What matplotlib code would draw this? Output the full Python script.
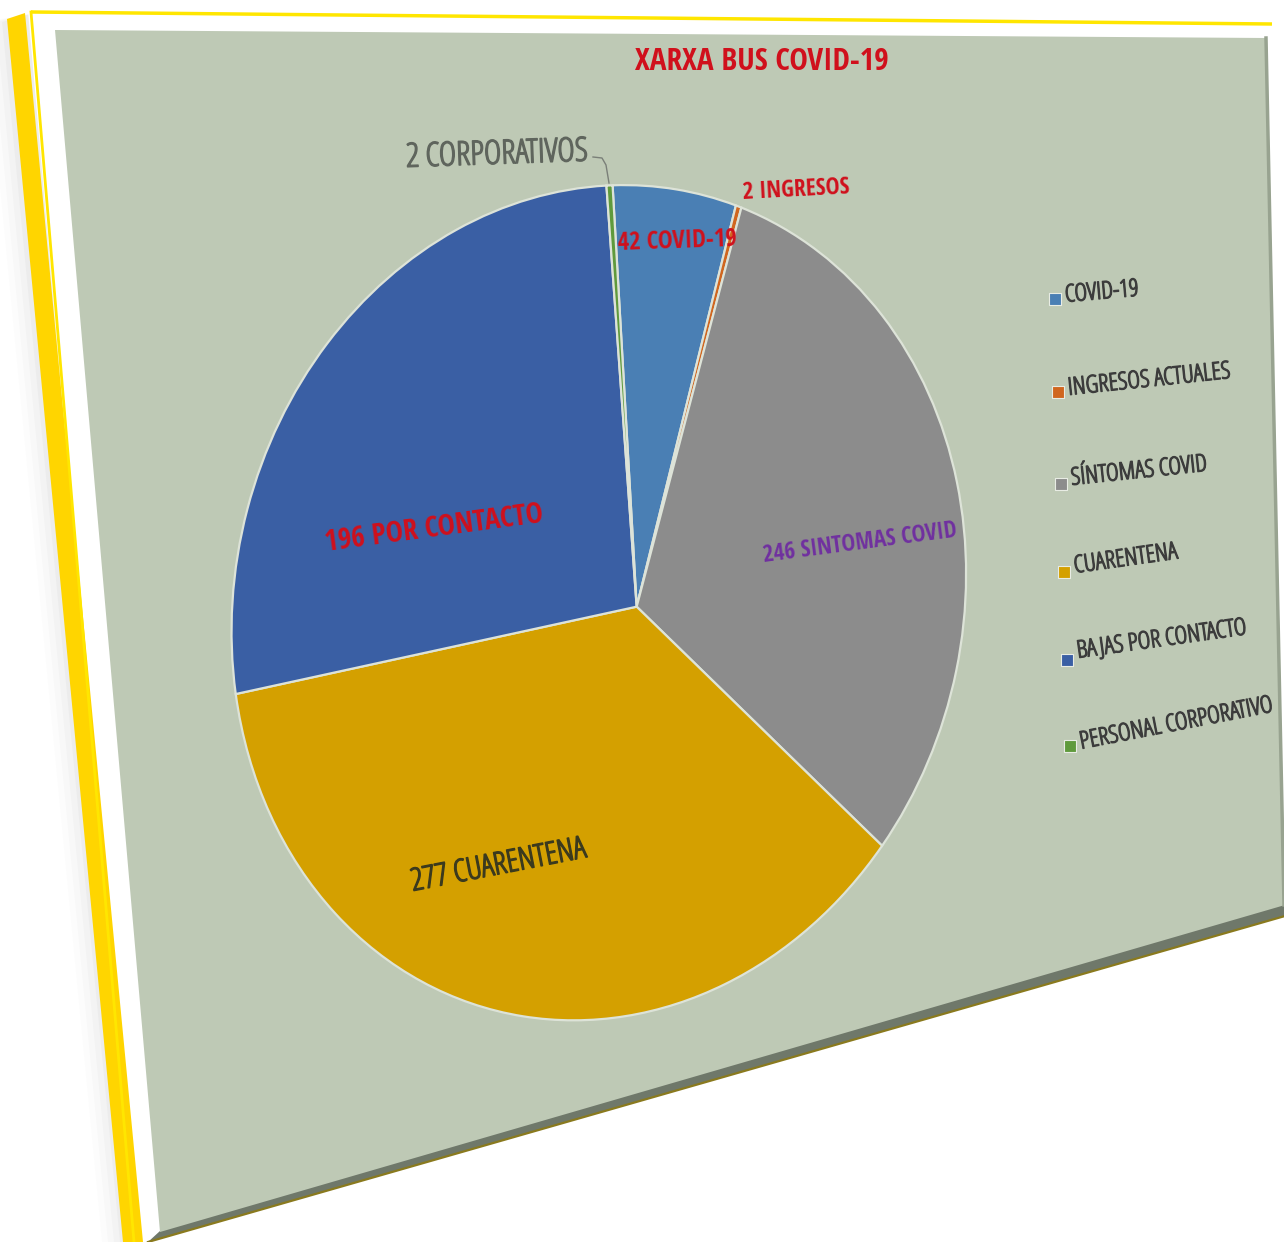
import numpy as np
import matplotlib
matplotlib.use("Agg")
import matplotlib.pyplot as plt
from matplotlib.transforms import Transform
from matplotlib.patches import Polygon
from matplotlib import font_manager as fm
import matplotlib.patheffects as pe

# ---------------- data ----------------
categories = ['COVID-19', 'INGRESOS ACTUALES', 'SÍNTOMAS COVID', 'CUARENTENA',
              'BAJAS POR CONTACTO', 'PERSONAL CORPORATIVO']
values = [42, 2, 246, 277, 196, 2]
label_names = ['COVID-19', 'INGRESOS', 'SINTOMAS COVID', 'CUARENTENA',
               'POR CONTACTO', 'CORPORATIVOS']
colors = ['#4a7fb4', '#d0661f', '#8c8c8c', '#d4a000', '#3a5fa4', '#5f9a3c']
title = 'XARXA BUS COVID-19'


# ---------------- font choice: a narrow sans if one is installed ----------------
def _wnum(w):
    if isinstance(w, str):
        return fm.weight_dict.get(w, 400)
    return w


def _is_narrow(f):
    n = f.name
    if 'Narrow' in n or 'Condensed' in n:
        return True
    return str(f.stretch) in ('condensed', 'semi-condensed', 'extra-condensed')


def pick_font(weight):
    bases = ['Liberation Sans', 'Noto Sans', 'Open Sans', 'Roboto', 'DejaVu Sans', 'Lato']
    for base in bases:
        cands = [f for f in fm.fontManager.ttflist
                 if f.name.startswith(base) and _is_narrow(f) and f.style == 'normal'
                 and 'Mono' not in f.name and 'Serif' not in f.name
                 and 'Extra' not in f.name and 'Ultra' not in f.name
                 and 'CJK' not in f.name and 'Display' not in f.name]
        if cands:
            cands.sort(key=lambda f: (abs(_wnum(f.weight) - weight),
                                      'Semi' in str(f.stretch) or 'Semi' in f.name))
            return cands[0].fname
    return None


_reg = pick_font(400)
_bold = pick_font(700)


def fp(size, bold=False):
    path = _bold if bold else _reg
    if path:
        return fm.FontProperties(fname=path, size=size)
    return fm.FontProperties(family=['Lato', 'DejaVu Sans'], size=size,
                             weight='bold' if bold else 'normal')


def thick(color, lw=0.9):
    return [pe.withStroke(linewidth=lw, foreground=color)]


W_PX, H_PX = 1284, 1242
fig = plt.figure(figsize=(W_PX / 100, H_PX / 100), dpi=100, facecolor='white')
ax = fig.add_axes([0, 0, 1, 1])


# ------------- perspective (homography) from chart space to pixels -------------
def square_to_quad(q):
    (x0, y0), (x1, y1), (x2, y2), (x3, y3) = q
    dx1, dx2, dx3 = x1 - x2, x3 - x2, x0 - x1 + x2 - x3
    dy1, dy2, dy3 = y1 - y2, y3 - y2, y0 - y1 + y2 - y3
    det = dx1 * dy2 - dx2 * dy1
    g = (dx3 * dy2 - dx2 * dy3) / det
    h = (dx1 * dy3 - dx3 * dy1) / det
    a = x1 - x0 + g * x1
    b = x3 - x0 + h * x3
    d = y1 - y0 + g * y1
    e = y3 - y0 + h * y3
    return a, b, x0, d, e, y0, g, h


panel = [(55, 30), (1267, 38), (1285, 905), (160, 1232)]
CH_W = 1.341  # chart aspect (width / height) in chart space


class Persp(Transform):
    input_dims = 2
    output_dims = 2
    is_separable = False
    has_inverse = False

    def __init__(self, quad, width):
        super().__init__()
        self.k = square_to_quad(quad)
        self.width = width

    def transform_non_affine(self, values):
        a, b, c, d, e, f, g, h = self.k
        v = np.asarray(values, dtype=float).reshape(-1, 2)
        u = v[:, 0] / self.width
        w = 1.0 - v[:, 1]
        den = g * u + h * w + 1.0
        return np.column_stack([(a * u + b * w + c) / den, (d * u + e * w + f) / den])


persp = Persp(panel, CH_W)

# ---------------- frame / background ----------------
for i, al in enumerate([0.05, 0.04, 0.03, 0.02]):
    off = 6 + i * 6
    ax.add_patch(Polygon([(8 - off, 22), (30, 14), (150, 1242), (126 - off, 1242)],
                         closed=True, fc='#808080', ec='none', alpha=al, zorder=0))
ax.add_patch(Polygon([(28, 11), (1272, 24), (1284, 40), (1284, 918), (150, 1242), (136, 1242)],
                     closed=True, fc='white', ec='none', zorder=1))
ax.add_patch(Polygon([(7, 19), (25, 13), (143, 1242), (123, 1242)],
                     closed=True, fc='#ffd500', ec='none', zorder=2))
ax.plot([31, 1272], [12, 24], color='#ffe600', lw=2.5, zorder=2, solid_capstyle='butt')
ax.plot([31, 134], [12, 1242], color='#ffe600', lw=2.0, zorder=2)
ax.add_patch(Polygon([(160, 1231), (1285, 904), (1285, 916), (148, 1242)],
                     closed=True, fc='#6f786a', ec='none', zorder=2))
ax.plot([148, 1285], [1242, 916], color='#8a7a1e', lw=1.6, zorder=2)
ax.add_patch(Polygon(panel, closed=True, fc='#bec9b5', ec='none', zorder=3))
ax.plot([1266, 1284], [38, 905], color='#98a390', lw=2.5, zorder=3)

# ---------------- pie (chart space, mapped by perspective) ----------------
pie_center = (0.3694 * CH_W, 1 - 0.530)
pie_radius = 0.393
wedges, _ = ax.pie(values, colors=colors, startangle=90, counterclock=False,
                   center=pie_center, radius=pie_radius,
                   wedgeprops=dict(edgecolor='#dde3d8', linewidth=1.6))
for wdg in wedges:
    wdg.set_transform(persp + ax.transData)
    wdg.set_zorder(4)

ax.set_xlim(0, W_PX)
ax.set_ylim(H_PX, 0)
ax.set_aspect('auto')
ax.axis('off')

# ---------------- title ----------------
ax.text(762, 62, title, ha='center', va='center', fontproperties=fp(22.5, True),
        color='#d0101c', zorder=6)

# ---------------- data labels ----------------
lab = [f'{v} {n}' for v, n in zip(values, label_names)]
lab_pos = [(677, 241), (796, 190), (860, 543), (499, 866), (434, 529), (497, 155)]
lab_rot = [2, 3, 7.5, 11, 7.6, 2]
lab_col = ['#d0101c', '#d0101c', '#7030a0', '#3b3a1e', '#d0101c', '#5f655d']
lab_size = [17.8, 17, 16.8, 22.5, 21, 24]
lab_bold = [True, True, True, False, True, False]
for t, p, r, c, s, b in zip(lab, lab_pos, lab_rot, lab_col, lab_size, lab_bold):
    ax.text(p[0], p[1], t, ha='center', va='center', rotation=r, rotation_mode='anchor',
            fontproperties=fp(s, b), color=c, zorder=6,
            path_effects=None if b else thick(c, 1.0))

ax.plot([593, 602, 606, 609], [157, 158, 165, 183], color='#7a7f78', lw=1.0, zorder=6)

# ---------------- legend ----------------
leg_marker = [(1055, 299), (1058, 392), (1061, 484), (1064, 572), (1067, 660), (1070, 746)]
leg_text = [(1065, 296), (1068, 389), (1071, 479), (1074, 567), (1077, 652), (1080, 743)]
leg_rot = [5, 6, 6, 8, 8, 11]
for (mx, my), (tx, ty), r, name, c in zip(leg_marker, leg_text, leg_rot, categories, colors):
    ax.scatter([mx], [my], marker='s', s=70, color=c, edgecolors='#e8ece4', linewidths=0.8,
               zorder=6)
    ax.text(tx, ty, name, ha='left', va='center', rotation=r, rotation_mode='anchor',
            fontproperties=fp(17.5), color='#3c3c3c', zorder=6,
            path_effects=thick('#3c3c3c', 0.9))

fig.savefig('out.png', dpi=100, facecolor='white')
